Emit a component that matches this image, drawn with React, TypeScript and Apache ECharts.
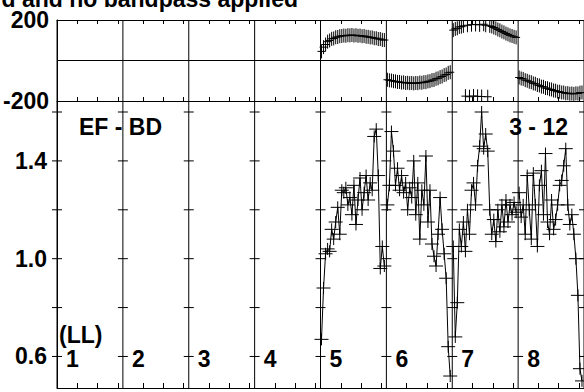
import React, { useEffect, useRef } from 'react';
import * as echarts from 'echarts';

const TITLE = 'd and no bandpass applied';
const BASELINE_LABEL = 'EF - BD';
const TIME_LABEL = '3 - 12';
const POL_LABEL = '(LL)';
const PANEL_LABELS = ['1', '2', '3', '4', '5', '6', '7', '8'];
const PANEL_SPAN = 65;
const CHANNELS = [1, 3, 5, 7, 9, 11, 13, 15, 17, 19, 21, 23, 25, 27, 29, 31, 33, 35, 37, 39, 41, 43, 45, 47, 49, 51, 53, 55, 57, 59, 61, 63];
const CHANNEL_TICKS = [20, 40, 60];
const PHASE_LABELS = [-200, 200];
const AMP_LABELS = [0.6, 1.0, 1.4];
const AMP_TICKS = [0.6, 0.8, 1.0, 1.2, 1.4, 1.6];
const PHASE_MIN = -200;
const PHASE_MAX = 200;
const AMP_MIN = 0.471;
const AMP_MAX = 1.645;

// amplitudes per IF (IFs 1-4 flagged: no data)
const AMP_IF5 = [0.67, 0.88, 1.02, 1.04, 1.03, 1.12, 1.08, 1.15, 1.21, 1.10, 1.28, 1.27, 1.29, 1.22, 1.25, 1.18, 1.30, 1.14, 1.24, 1.33, 1.20, 1.27, 1.34, 1.24, 1.31, 1.28, 1.50, 1.53, 1.34, 0.96, 1.05, 0.97];
const AMP_IF6 = [1.22, 1.30, 1.52, 1.44, 1.30, 1.37, 1.28, 1.34, 1.27, 1.31, 1.20, 1.29, 1.25, 1.40, 1.18, 1.31, 1.08, 1.28, 1.22, 1.42, 1.15, 1.28, 1.06, 1.01, 0.97, 1.10, 1.25, 1.12, 1.02, 0.92, 0.64, 0.52];
const AMP_IF7 = [1.05, 0.68, 0.82, 1.12, 1.05, 1.15, 1.03, 1.20, 1.10, 1.28, 1.31, 1.22, 1.38, 1.46, 1.60, 1.45, 1.51, 1.44, 1.20, 1.10, 1.16, 1.07, 1.20, 1.11, 1.22, 1.13, 1.24, 1.15, 1.22, 1.18, 1.23, 1.19];
const AMP_IF8 = [1.27, 1.17, 1.22, 1.10, 1.34, 1.20, 1.08, 1.35, 1.22, 1.05, 1.30, 1.36, 1.18, 1.43, 1.15, 1.10, 1.24, 1.12, 1.16, 1.22, 1.30, 1.32, 1.38, 1.45, 1.22, 1.14, 1.18, 1.10, 1.00, 0.85, 0.55, 0.50];

// phases per IF (degrees)
const PHASE_IF5 = [45, 66, 79, 93, 99, 107, 109, 115, 116, 120, 121, 123, 122, 125, 124, 126, 123, 125, 122, 123, 120, 121, 117, 117, 114, 114, 110, 110, 106, 106, 102, 101];
const PHASE_IF6 = [-95, -98, -99, -102, -103, -106, -106, -109, -108, -111, -110, -112, -111, -113, -111, -112, -109, -110, -107, -107, -103, -102, -97, -96, -90, -88, -82, -79, -72, -69, -61, -58];
const PHASE_IF7 = [150, 156, 159, 166, 167, 171, -176, 174, -179, 177, -175, 178, -177, 176, -178, 179, 174, -179, 171, 168, 163, 159, 153, 149, 143, 139, 133, 129, 124, 121, 117, 114];
const PHASE_IF8 = [-84, -89, -91, -97, -100, -105, -107, -113, -115, -121, -123, -129, -130, -136, -137, -142, -143, -148, -149, -154, -154, -158, -158, -162, -161, -164, -163, -165, -162, -163, -159, -158];

const AMP_DATA: number[][] = [[], [], [], [], AMP_IF5, AMP_IF6, AMP_IF7, AMP_IF8];
const PHASE_DATA: number[][] = [[], [], [], [], PHASE_IF5, PHASE_IF6, PHASE_IF7, PHASE_IF8];

const FAMILY = '"Liberation Sans", Arial, Helvetica, sans-serif';
const FONT = 'bold 23px ' + FAMILY;
const INK = '#000';

function toPoints(panel: number, vals: number[]): number[][] {
  return vals.map((v, i) => [panel * PANEL_SPAN + CHANNELS[i], v]);
}

function crossRenderer(hw: number, hh: number) {
  return (params: any, api: any) => {
    const p = api.coord([api.value(0), api.value(1)]);
    return {
      type: 'group',
      children: [
        { type: 'line', shape: { x1: p[0] - hw, y1: p[1], x2: p[0] + hw, y2: p[1] }, style: { stroke: INK, lineWidth: 1 } },
        { type: 'line', shape: { x1: p[0], y1: p[1] - hh, x2: p[0], y2: p[1] + hh }, style: { stroke: INK, lineWidth: 1 } },
      ],
    };
  };
}

export default function App() {
  const ref = useRef<HTMLDivElement>(null);

  useEffect(() => {
    if (!ref.current) return;
    const chart = echarts.init(ref.current, undefined, { renderer: 'svg' });

    const panelCount = PANEL_LABELS.length;
    const xMax = panelCount * PANEL_SPAN;
    const boundaries: number[][] = [];
    for (let k = 0; k <= panelCount; k++) boundaries.push([k * PANEL_SPAN, 0]);
    const tickValues: number[] = [];
    for (let k = 0; k < panelCount; k++) CHANNEL_TICKS.forEach((t) => tickValues.push(k * PANEL_SPAN + t));

    const xBase = {
      type: 'value',
      min: 0,
      max: xMax,
      axisLine: { show: true, onZero: false, lineStyle: { color: INK, width: 1 } },
      axisTick: { show: true, inside: true, length: 4, customValues: tickValues, lineStyle: { color: INK, width: 1 } },
      axisLabel: { show: false },
      splitLine: { show: false },
    };

    const series: any[] = [];

    // dividers in phase plot + zero line
    series.push({
      type: 'custom',
      xAxisIndex: 0,
      yAxisIndex: 0,
      silent: true,
      data: boundaries,
      renderItem: (params: any, api: any) => {
        const x = api.value(0);
        const a = api.coord([x, PHASE_MAX]);
        const b = api.coord([x, PHASE_MIN]);
        return { type: 'line', shape: { x1: a[0], y1: a[1], x2: b[0], y2: b[1] }, style: { stroke: INK, lineWidth: 1 } };
      },
      markLine: {
        silent: true,
        symbol: 'none',
        label: { show: false },
        lineStyle: { color: INK, type: 'solid', width: 1 },
        data: [{ yAxis: 0 }],
      },
    });

    // dividers in amplitude plot with crossing ticks
    series.push({
      type: 'custom',
      xAxisIndex: 2,
      yAxisIndex: 1,
      silent: true,
      data: boundaries,
      renderItem: (params: any, api: any) => {
        const x = api.value(0);
        const a = api.coord([x, AMP_MAX]);
        const b = api.coord([x, AMP_MIN]);
        const children: any[] = [
          { type: 'line', shape: { x1: a[0], y1: a[1], x2: b[0], y2: b[1] }, style: { stroke: INK, lineWidth: 1 } },
        ];
        AMP_TICKS.forEach((t) => {
          const p = api.coord([x, t]);
          children.push({ type: 'line', shape: { x1: p[0] - 5, y1: p[1], x2: p[0] + 5, y2: p[1] }, style: { stroke: INK, lineWidth: 1 } });
        });
        return { type: 'group', children };
      },
    });

    // panel numbers
    series.push({
      type: 'custom',
      xAxisIndex: 2,
      yAxisIndex: 1,
      silent: true,
      data: PANEL_LABELS.map((_, k) => [k * PANEL_SPAN + 9, 0.6]),
      renderItem: (params: any, api: any) => {
        const p = api.coord([api.value(0), api.value(1)]);
        return {
          type: 'text',
          x: p[0],
          y: p[1] + 3,
          style: { text: PANEL_LABELS[params.dataIndex], font: FONT, fill: INK, align: 'left', verticalAlign: 'middle' },
        };
      },
    });

    for (let k = 0; k < panelCount; k++) {
      const amp = AMP_DATA[k];
      const ph = PHASE_DATA[k];
      if (ph.length) {
        series.push({
          type: 'custom',
          xAxisIndex: 0,
          yAxisIndex: 0,
          silent: true,
          clip: true,
          data: toPoints(k, ph),
          renderItem: crossRenderer(4, 7),
        });
      }
      if (amp.length) {
        const pts = toPoints(k, amp);
        series.push({
          type: 'line',
          xAxisIndex: 2,
          yAxisIndex: 1,
          silent: true,
          symbol: 'none',
          data: pts,
          lineStyle: { color: INK, width: 1 },
        });
        series.push({
          type: 'custom',
          xAxisIndex: 2,
          yAxisIndex: 1,
          silent: true,
          clip: true,
          data: pts,
          renderItem: crossRenderer(7, 6),
        });
      }
    }

    const option: any = {
      animation: false,
      backgroundColor: '#fff',
      textStyle: { fontFamily: FAMILY },
      grid: [
        { left: 57, top: 20, width: 532, height: 81 },
        { left: 57, top: 101, width: 532, height: 287 },
      ],
      xAxis: [
        { ...xBase, gridIndex: 0, position: 'bottom' },
        { ...xBase, gridIndex: 0, position: 'top' },
        { ...xBase, gridIndex: 1, position: 'bottom', axisTick: { ...xBase.axisTick, length: 5 } },
      ],
      yAxis: [
        {
          type: 'value',
          gridIndex: 0,
          min: PHASE_MIN,
          max: PHASE_MAX,
          axisLine: { show: true, onZero: false, lineStyle: { color: INK } },
          axisTick: { show: false },
          splitLine: { show: false },
          axisLabel: {
            customValues: PHASE_LABELS,
            margin: 8,
            color: INK,
            fontSize: 23,
            fontWeight: 'bold',
            fontFamily: FAMILY,
            padding: [2, 0, 0, 0],
          },
        },
        {
          type: 'value',
          gridIndex: 1,
          min: AMP_MIN,
          max: AMP_MAX,
          axisLine: { show: true, onZero: false, lineStyle: { color: INK } },
          axisTick: { show: false },
          splitLine: { show: false },
          axisLabel: {
            customValues: AMP_LABELS,
            formatter: (v: number) => v.toFixed(1),
            margin: 10,
            color: INK,
            fontSize: 23,
            fontWeight: 'bold',
            fontFamily: FAMILY,
            padding: [5, 0, 0, 0],
          },
        },
      ],
      graphic: [
        { type: 'text', x: 298, y: -1, style: { text: TITLE, font: FONT, fill: INK, align: 'right', verticalAlign: 'middle' } },
        { type: 'text', x: 79, y: 127, style: { text: BASELINE_LABEL, font: FONT, fill: INK, align: 'left', verticalAlign: 'middle' } },
        { type: 'text', x: 568, y: 127, style: { text: TIME_LABEL, font: FONT, fill: INK, align: 'right', verticalAlign: 'middle' } },
        { type: 'text', x: 59, y: 335, style: { text: POL_LABEL, font: FONT, fill: INK, align: 'left', verticalAlign: 'middle' } },
      ],
      series,
    };

    chart.setOption(option);
    return () => chart.dispose();
  }, []);

  return (
    <div
      ref={ref}
      style={{ position: 'absolute', left: 0, top: 0, width: 584, height: 392, background: '#fff' }}
    />
  );
}
